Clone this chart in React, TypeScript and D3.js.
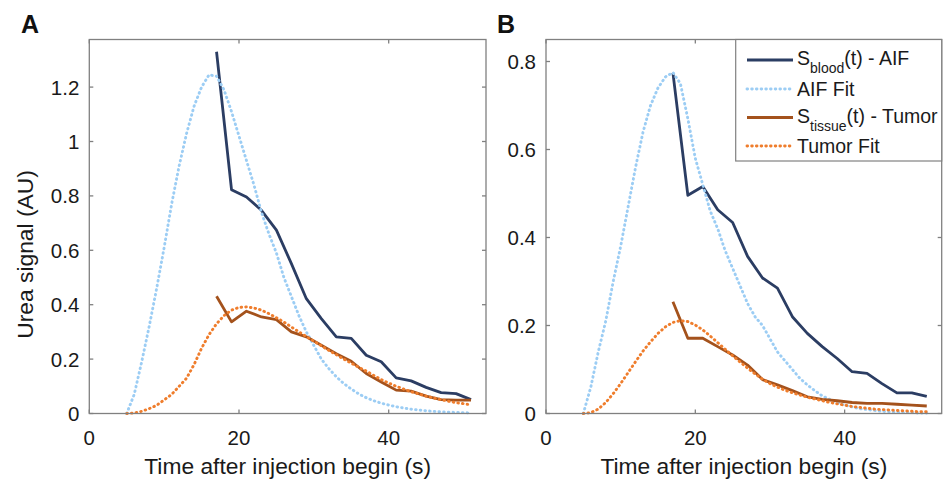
import * as d3 from "d3";

// sample times (s)
const measTime = [17, 19, 21, 23, 25, 27, 29, 31, 33, 35, 37, 39, 41, 43, 45, 47, 49, 51];
const fitTime = [
  5, 6, 7, 8, 9, 10, 11, 12, 13, 14, 15, 16, 17, 18, 19, 20, 21, 22, 23, 24, 25, 26, 27, 28,
  29, 30, 31, 32, 33, 34, 35, 36, 37, 38, 39, 40, 41, 42, 43, 44, 45, 46, 47, 48, 49, 50, 51,
];

// panel A
const bloodA = [1.33, 0.823, 0.796, 0.747, 0.674, 0.551, 0.422, 0.349, 0.282, 0.276, 0.214, 0.19, 0.131, 0.12, 0.096, 0.077, 0.073, 0.051];
const tissueA = [0.431, 0.337, 0.376, 0.355, 0.345, 0.3, 0.282, 0.251, 0.22, 0.192, 0.147, 0.116, 0.086, 0.082, 0.064, 0.051, 0.049, 0.049];
const aifFitA = [
  0, 0.07, 0.19, 0.32, 0.46, 0.61, 0.77, 0.91, 1.03, 1.13, 1.2, 1.245, 1.24, 1.19, 1.11, 1.02,
  0.93, 0.84, 0.74, 0.66, 0.59, 0.5, 0.43, 0.36, 0.3, 0.25, 0.2, 0.165, 0.135, 0.11, 0.09,
  0.072, 0.058, 0.047, 0.038, 0.031, 0.025, 0.02, 0.016, 0.013, 0.01, 0.008, 0.006, 0.005,
  0.004, 0.003, 0.002,
];
const tumorFitA = [
  0, 0.002, 0.008, 0.018, 0.03, 0.05, 0.07, 0.1, 0.13, 0.18, 0.24, 0.29, 0.33, 0.36, 0.38,
  0.39, 0.392, 0.388, 0.38, 0.367, 0.352, 0.336, 0.318, 0.3, 0.283, 0.266, 0.249, 0.232,
  0.216, 0.2, 0.185, 0.17, 0.156, 0.14, 0.125, 0.112, 0.1, 0.09, 0.08, 0.072, 0.064, 0.057,
  0.051, 0.045, 0.04, 0.036, 0.032,
];

// panel B
const bloodB = [0.774, 0.496, 0.516, 0.463, 0.434, 0.357, 0.308, 0.285, 0.22, 0.182, 0.152, 0.125, 0.095, 0.091, 0.068, 0.047, 0.047, 0.039];
const tissueB = [0.254, 0.171, 0.171, 0.152, 0.133, 0.11, 0.077, 0.065, 0.052, 0.038, 0.032, 0.029, 0.025, 0.023, 0.023, 0.021, 0.019, 0.017];
const aifFitB = [
  0, 0.06, 0.14, 0.21, 0.3, 0.38, 0.47, 0.56, 0.64, 0.7, 0.74, 0.765, 0.775, 0.75, 0.67, 0.58,
  0.52, 0.46, 0.42, 0.37, 0.33, 0.29, 0.25, 0.22, 0.2, 0.17, 0.14, 0.12, 0.1, 0.08, 0.065,
  0.052, 0.04, 0.032, 0.025, 0.019, 0.015, 0.011, 0.009, 0.007, 0.005, 0.004, 0.003, 0.002,
  0.002, 0.001, 0.001,
];
const tumorFitB = [
  0, 0.002, 0.01, 0.025, 0.045, 0.068, 0.093, 0.118, 0.142, 0.163, 0.182, 0.197, 0.207, 0.211,
  0.209, 0.201, 0.19, 0.176, 0.161, 0.146, 0.131, 0.117, 0.103, 0.09, 0.078, 0.068, 0.06,
  0.053, 0.047, 0.042, 0.037, 0.033, 0.029, 0.025, 0.022, 0.019, 0.016, 0.014, 0.012, 0.01,
  0.009, 0.008, 0.007, 0.006, 0.005, 0.004, 0.004,
];

const xTicks = [0, 20, 40];
const yTicksA = [0, 0.2, 0.4, 0.6, 0.8, 1, 1.2];
const yTicksB = [0, 0.2, 0.4, 0.6, 0.8];
const legendLabels = [
  { main: "S", sub: "blood", rest: "(t) - AIF" },
  { main: "AIF Fit", sub: "", rest: "" },
  { main: "S", sub: "tissue", rest: "(t) - Tumor" },
  { main: "Tumor Fit", sub: "", rest: "" },
];

const FONT = "'Liberation Sans', Arial, Helvetica, sans-serif";
const navy = "#2b3d63";
const lightBlue = "#9ccdf4";
const brown = "#a4521c";
const orange = "#ef7d2c";
const axisGray = "#808080";
const dots = "0.6 4.1";

const top = 39.5;
const bottom = 413.5;

function Panel({ x0, x1, yMax, yTicks, blood, tissue, aifFit, tumorFit, label, yTitle, legend }) {
  const x = d3.scaleLinear().domain([0, 53]).range([x0, x1]);
  const y = d3.scaleLinear().domain([0, yMax]).range([bottom, top]);
  const path = (ts, vs) =>
    d3
      .line<number>()
      .x((t) => x(t))
      .y((t, i) => y(vs[i]))(ts);

  const series = [
    { d: path(measTime, blood), color: navy, dash: null },
    { d: path(fitTime, aifFit), color: lightBlue, dash: dots },
    { d: path(measTime, tissue), color: brown, dash: null },
    { d: path(fitTime, tumorFit), color: orange, dash: dots },
  ];

  const legX = 735.7;
  const legRows = [60, 89, 117.5, 146];

  return (
    <g>
      <text x={label === "A" ? 21 : 497} y={33} fontSize={25} fontWeight="bold" fontFamily={FONT} fill="#111">
        {label}
      </text>
      {series.map((s, i) => (
        <path
          key={i}
          d={s.d}
          fill="none"
          stroke={s.color}
          strokeWidth={s.dash ? 2.9 : 2.8}
          strokeDasharray={s.dash || undefined}
          strokeLinecap={s.dash ? "round" : "butt"}
          strokeLinejoin="round"
        />
      ))}
      <rect x={x0} y={top} width={x1 - x0} height={bottom - top} fill="none" stroke={axisGray} strokeWidth={1.3} />
      {xTicks.map((t) => (
        <g key={"x" + t}>
          <line x1={x(t)} x2={x(t)} y1={bottom} y2={bottom - 4} stroke={axisGray} strokeWidth={1.3} />
          <line x1={x(t)} x2={x(t)} y1={top} y2={top + 4} stroke={axisGray} strokeWidth={1.3} />
          <text x={x(t)} y={445} textAnchor="middle" fontSize={20.5} fontFamily={FONT} fill="#1a1a1a">
            {String(t)}
          </text>
        </g>
      ))}
      {yTicks.map((v) => (
        <g key={"y" + v}>
          <line x1={x0} x2={x0 + 4} y1={y(v)} y2={y(v)} stroke={axisGray} strokeWidth={1.3} />
          <line x1={x1} x2={x1 - 4} y1={y(v)} y2={y(v)} stroke={axisGray} strokeWidth={1.3} />
          <text x={x0 - 10} y={y(v) + 7.5} textAnchor="end" fontSize={20.5} fontFamily={FONT} fill="#1a1a1a">
            {String(v)}
          </text>
        </g>
      ))}
      <text x={(x0 + x1) / 2} y={474} textAnchor="middle" fontSize={22.8} fontFamily={FONT} fill="#1a1a1a">
        Time after injection begin (s)
      </text>
      {yTitle && (
        <text
          transform={`translate(33, ${(top + bottom) / 2 + 28}) rotate(-90)`}
          textAnchor="middle"
          fontSize={22.8}
          fontFamily={FONT}
          fill="#1a1a1a"
        >
          Urea signal (AU)
        </text>
      )}
      {legend && (
        <g>
          <rect x={legX} y={top} width={x1 - legX} height={161 - top} fill="#fff" stroke={axisGray} strokeWidth={1.2} />
          {legendLabels.map((l, i) => {
            const s = series[i];
            const ry = legRows[i];
            const base = l.sub ? ry + 5 : ry + 7;
            return (
              <g key={i}>
                <line
                  x1={747}
                  x2={793}
                  y1={ry}
                  y2={ry}
                  stroke={s.color}
                  strokeWidth={s.dash ? 2.9 : 2.8}
                  strokeDasharray={s.dash || undefined}
                  strokeLinecap={s.dash ? "round" : "butt"}
                />
                <text x={797} y={base} fontSize={19.5} fontFamily={FONT} fill="#1a1a1a">
                  {l.main}
                  {l.sub && (
                    <tspan fontSize={14} dy={8}>
                      {l.sub}
                    </tspan>
                  )}
                  {l.rest && <tspan dy={-8}>{l.rest}</tspan>}
                </text>
              </g>
            );
          })}
        </g>
      )}
    </g>
  );
}

export default function App() {
  return (
    <svg width={944} height={480} style={{ position: "absolute", left: 0, top: 0, background: "#fff" }}>
      <rect width={944} height={480} fill="#fff" />
      <Panel
        label="A"
        x0={89.3}
        x1={486}
        yMax={1.375}
        yTicks={yTicksA}
        blood={bloodA}
        tissue={tissueA}
        aifFit={aifFitA}
        tumorFit={tumorFitA}
        yTitle
        legend={false}
      />
      <Panel
        label="B"
        x0={546}
        x1={941.7}
        yMax={0.85}
        yTicks={yTicksB}
        blood={bloodB}
        tissue={tissueB}
        aifFit={aifFitB}
        tumorFit={tumorFitB}
        yTitle={false}
        legend
      />
    </svg>
  );
}
